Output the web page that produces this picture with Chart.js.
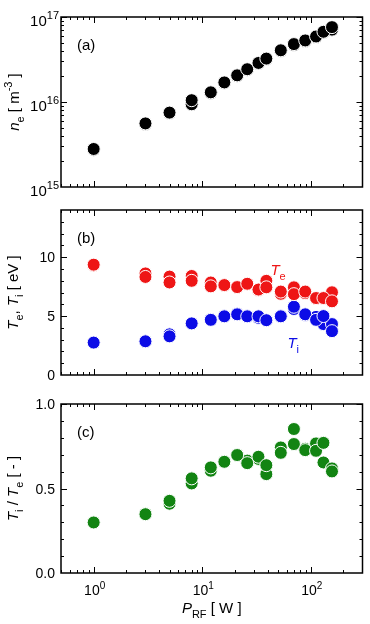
<!DOCTYPE html>
<html>
<head>
<meta charset="utf-8">
<script src="https://cdn.jsdelivr.net/npm/chart.js@4/dist/chart.umd.min.js"></script>
<style>
  html, body { margin: 0; padding: 0; background: #fff; }
  .wrap { position: relative; width: 370px; height: 624px; }
  canvas { position: absolute; left: 0; }
</style>
</head>
<body>
<div class="wrap">
  <canvas id="chartA" width="370" height="205" style="top:0px"></canvas>
  <canvas id="chartB" width="370" height="195" style="top:195px"></canvas>
  <canvas id="chartC" width="370" height="234" style="top:390px"></canvas>
</div>
<script>
// ── DATA ────────────────────────────────────────────────────────────────────
const powerW = [1, 3, 5, 8, 12, 16, 21, 26, 33, 39, 53, 70, 89, 112, 131, 157];

// (a) electron density [m^-3]
const neFront = [2.8e15, 5.6e15, 7.5e15, 1.05e16, 1.3e16, 1.7e16, 2.06e16, 2.43e16, 2.88e16, 3.24e16, 4.06e16, 4.8e16, 5.3e16, 5.9e16, 6.7e16, 7.6e16];
const neBack  = [2.75e15, 5.5e15, 7.4e15, 9.4e15, 1.28e16, 1.68e16, 2.04e16, 2.4e16, 2.85e16, 3.2e16, 4.0e16, 4.7e16, 5.2e16, 5.8e16, 6.6e16, 7.1e16];

// (b) temperatures [eV]
const teFront = [9.36, 8.32, 7.85, 7.99, 7.52, 7.63, 7.46, 7.74, 7.25, 7.44, 7.08, 6.86, 7.08, 6.53, 6.53, 6.25];
const teBack  = [9.30, 8.62, 8.35, 8.40, 7.85, 7.60, 7.45, 7.70, 7.20, 7.99, 6.89, 7.44, 6.95, 6.50, 6.55, 7.02];
const tiFront = [2.75, 2.86, 3.28, 4.38, 4.68, 4.98, 5.15, 4.98, 4.98, 4.65, 4.98, 5.79, 5.15, 4.68, 5.00, 3.72];
const tiBack  = [2.75, 2.86, 3.45, 4.38, 4.70, 5.00, 5.20, 5.00, 4.85, 4.65, 5.00, 5.60, 5.10, 4.93, 4.32, 4.32];

// (c) Ti / Te
const ratioFront = [0.299, 0.348, 0.427, 0.560, 0.625, 0.658, 0.698, 0.650, 0.688, 0.638, 0.711, 0.763, 0.727, 0.723, 0.770, 0.601];
const ratioBack  = [0.300, 0.350, 0.410, 0.530, 0.605, 0.660, 0.700, 0.665, 0.675, 0.585, 0.743, 0.852, 0.735, 0.767, 0.654, 0.619];

// ticks
const xMajor = [1, 10, 100];
const xMajorLabels = ["0", "1", "2"];
const xMinor = [0.5, 0.6, 0.7, 0.8, 0.9, 2, 3, 4, 5, 6, 7, 8, 9, 20, 30, 40, 50, 60, 70, 80, 90, 200, 300];
const neMajor = [1e15, 1e16, 1e17];
const neMajorLabels = ["15", "16", "17"];
const neMinor = [2e15, 3e15, 4e15, 5e15, 6e15, 7e15, 8e15, 9e15, 2e16, 3e16, 4e16, 5e16, 6e16, 7e16, 8e16, 9e16];
const tMajor = [0, 5, 10];
const tMajorLabels = ["0", "5", "10"];
const tMinor = [1, 2, 3, 4, 6, 7, 8, 9, 11, 12, 13];
const rMajor = [0, 0.5, 1.0];
const rMajorLabels = ["0.0", "0.5", "1.0"];
const rMinor = [0.1, 0.2, 0.3, 0.4, 0.6, 0.7, 0.8, 0.9];

// ── STYLE ───────────────────────────────────────────────────────────────────
const FONT = '"Liberation Sans", Arial, Helvetica, sans-serif';
const RED = "#ee1616", BLUE = "#0c0ce6", GREEN = "#128412", BLACK = "#000000";

function toPoints(ys) { return powerW.map((p, i) => ({ x: p, y: ys[i] })); }

function ds(ys, color) {
  return {
    data: toPoints(ys),
    backgroundColor: color,
    borderColor: "#ffffff",
    borderWidth: 1,
    pointRadius: 6.5,
    pointHoverRadius: 6.5,
    showLine: false,
  };
}

// rich text: parts = [[text, kind]], kind n normal, i italic, b sub, p sup
function richText(ctx, parts, x, y, align, size) {
  const sub = Math.round(size * 0.7);
  const fontOf = k => k === "i" ? `italic ${size}px ${FONT}` : (k === "b" || k === "p") ? `${sub}px ${FONT}` : `${size}px ${FONT}`;
  const shift = { n: 0, i: 0, b: Math.round(size * 0.3), p: -Math.round(size * 0.45) };
  let w = 0;
  parts.forEach(([t, k]) => { ctx.font = fontOf(k); w += ctx.measureText(t).width; });
  let sx = align === "center" ? x - w / 2 : align === "right" ? x - w : x;
  ctx.textAlign = "left";
  ctx.textBaseline = "alphabetic";
  parts.forEach(([t, k]) => {
    ctx.font = fontOf(k);
    ctx.fillText(t, sx, y + shift[k]);
    sx += ctx.measureText(t).width;
  });
}

// ── AXES PLUGIN ─────────────────────────────────────────────────────────────
const axesPlugin = {
  id: "paperAxes",
  afterDraw(chart, args, o) {
    const { ctx, chartArea: a, scales: { x, y } } = chart;
    ctx.save();
    ctx.strokeStyle = "#000";
    ctx.fillStyle = "#000";

    // ticks, inward on all 4 sides
    ctx.lineWidth = 1;
    ctx.beginPath();
    const xt = (vals, len) => vals.forEach(v => {
      const px = Math.round(x.getPixelForValue(v)) + 0.5;
      if (px < a.left || px > a.right) return;
      ctx.moveTo(px, a.bottom); ctx.lineTo(px, a.bottom - len);
      ctx.moveTo(px, a.top); ctx.lineTo(px, a.top + len);
    });
    const yt = (vals, len) => vals.forEach(v => {
      const py = Math.round(y.getPixelForValue(v)) + 0.5;
      if (py < a.top || py > a.bottom) return;
      ctx.moveTo(a.left, py); ctx.lineTo(a.left + len, py);
      ctx.moveTo(a.right, py); ctx.lineTo(a.right - len, py);
    });
    xt(xMajor, 6); xt(xMinor, 3);
    yt(o.yMajor, 6); yt(o.yMinor, 3);
    ctx.stroke();

    // frame
    ctx.lineWidth = 1.5;
    ctx.strokeRect(a.left, a.top, a.right - a.left, a.bottom - a.top);

    // y tick labels
    o.yMajor.forEach((v, i) => {
      const py = y.getPixelForValue(v);
      if (o.yLog) richText(ctx, [["10", "n"], [o.yLabels[i], "p"]], 59, py + 9, "right", 15);
      else richText(ctx, [[o.yLabels[i], "n"]], 55, py + 5, "right", 14);
    });

    // x tick labels + title (bottom panel only)
    if (o.xLabels) {
      xMajor.forEach((v, i) => {
        const px = x.getPixelForValue(v);
        richText(ctx, [["10", "n"], [xMajorLabels[i], "p"]], px + 1, a.bottom + 22, "center", 14);
      });
      richText(ctx, [["P", "i"], ["RF", "b"], [" [ W ]", "n"]], (a.left + a.right) / 2, a.bottom + 40, "center", 15);
    }

    // y title, rotated
    ctx.save();
    ctx.translate(o.titleX, (a.top + a.bottom) / 2);
    ctx.rotate(-Math.PI / 2);
    richText(ctx, o.yTitle, 0, 0, "center", 15);
    ctx.restore();

    // panel tag
    richText(ctx, [[o.tag, "n"]], a.left + 16, a.top + 33, "left", 15);

    // inline series labels
    (o.notes || []).forEach(n => {
      ctx.fillStyle = n.color;
      richText(ctx, n.parts, x.getPixelForValue(n.x), y.getPixelForValue(n.y), "left", 15);
    });
    ctx.restore();
  }
};

function makeChart(id, datasets, yScale, pad, opts) {
  return new Chart(document.getElementById(id), {
    type: "scatter",
    data: { datasets },
    options: {
      responsive: false,
      animation: false,
      events: [],
      layout: { padding: pad },
      plugins: { legend: { display: false }, tooltip: { enabled: false }, paperAxes: opts },
      scales: {
        x: { type: "logarithmic", min: 0.5, max: 300, display: false },
        y: Object.assign({ display: false }, yScale),
      },
    },
    plugins: [axesPlugin],
  });
}

// ── PANELS ──────────────────────────────────────────────────────────────────
makeChart("chartA",
  [ds(neFront, BLACK), ds(neBack, BLACK)],
  { type: "logarithmic", min: 1e15, max: 1e17 },
  { left: 61, right: 7, top: 17, bottom: 18 },
  { yMajor: neMajor, yMinor: neMinor, yLabels: neMajorLabels, yLog: true, tag: "(a)", titleX: 19,
    yTitle: [["n", "i"], ["e", "b"], [" [ m", "n"], ["-3", "p"], [" ]", "n"]] });

makeChart("chartB",
  [ds(teFront, RED), ds(tiFront, BLUE), ds(teBack, RED), ds(tiBack, BLUE)],
  { type: "linear", min: 0, max: 14 },
  { left: 61, right: 7, top: 15, bottom: 15 },
  { yMajor: tMajor, yMinor: tMinor, yLabels: tMajorLabels, yLog: false, tag: "(b)", titleX: 18,
    yTitle: [["T", "i"], ["e", "b"], [", ", "n"], ["T", "i"], ["i", "b"], [" [ eV ]", "n"]],
    notes: [
      { x: 42.5, y: 8.5, color: RED, parts: [["T", "i"], ["e", "b"]] },
      { x: 61, y: 2.3, color: BLUE, parts: [["T", "i"], ["i", "b"]] },
    ] });

makeChart("chartC",
  [ds(ratioFront, GREEN), ds(ratioBack, GREEN)],
  { type: "linear", min: 0, max: 1 },
  { left: 61, right: 7, top: 14, bottom: 51 },
  { yMajor: rMajor, yMinor: rMinor, yLabels: rMajorLabels, yLog: false, tag: "(c)", titleX: 18, xLabels: true,
    yTitle: [["T", "i"], ["i", "b"], [" / ", "n"], ["T", "i"], ["e", "b"], [" [ - ]", "n"]] });
</script>
</body>
</html>
